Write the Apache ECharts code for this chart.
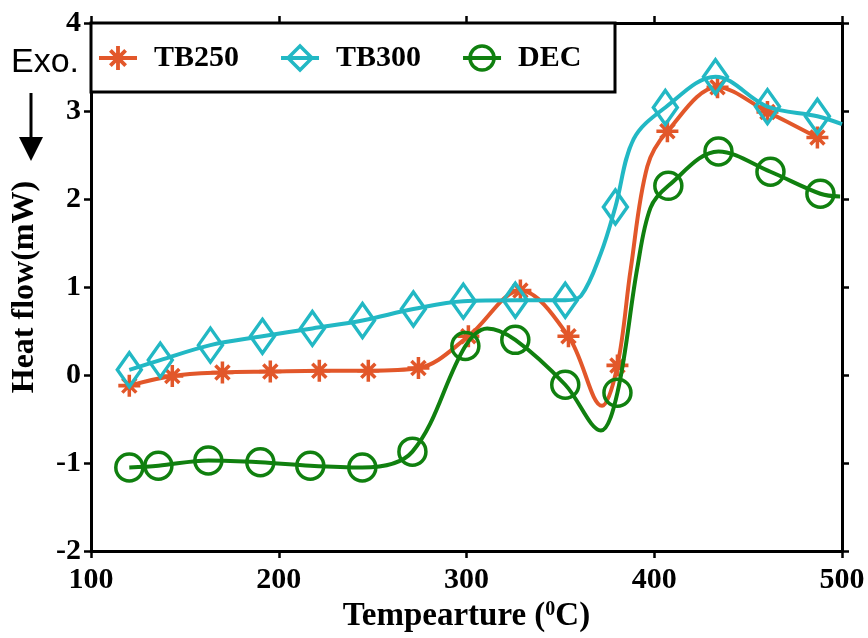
<!DOCTYPE html>
<html>
<head>
<meta charset="utf-8">
<script src="https://cdn.jsdelivr.net/npm/echarts@6/dist/echarts.min.js"></script>
<style>
html,body{margin:0;padding:0;background:#fff;}
#c{width:868px;height:638px;}
</style>
</head>
<body>
<div id="c"></div>
<script>
// ---- data ----
const seriesNames = ['TB250', 'TB300', 'DEC'];
const xTicks = [100, 200, 300, 400, 500];
const yTicks = [-2, -1, 0, 1, 2, 3, 4];

// [temperature, heat flow, marker shown (1) or only a curve point (0)]
const tb250 = [
  [120.4, -0.12, 1], [143.3, -0.01, 1], [170.0, 0.03, 1], [195.5, 0.04, 1],
  [221.6, 0.05, 1], [247.7, 0.05, 1], [274.4, 0.08, 1], [301.0, 0.44, 1],
  [328.7, 0.96, 1], [354.3, 0.44, 1], [372.2, -0.35, 0], [380.4, 0.11, 1],
  [387.5, 1.21, 0], [396.3, 2.37, 0], [407.0, 2.77, 1], [433.7, 3.27, 1],
  [460.3, 2.99, 1], [486.9, 2.70, 1]
];
const tb300 = [
  [120.4, 0.06, 1], [136.9, 0.17, 1], [163.6, 0.34, 1], [191.3, 0.44, 1],
  [217.9, 0.53, 1], [244.6, 0.62, 1], [271.7, 0.75, 1], [298.3, 0.84, 1],
  [326.0, 0.85, 1], [352.6, 0.85, 1], [361.0, 0.90, 0], [371.5, 1.38, 0],
  [379.3, 1.91, 1], [389.0, 2.68, 0], [405.9, 3.04, 1], [432.6, 3.39, 1],
  [460.3, 3.05, 1], [486.9, 2.94, 1], [500.0, 2.85, 0]
];
const dec = [
  [120.4, -1.05, 1], [135.9, -1.03, 1], [162.5, -0.97, 1], [190.2, -0.99, 1],
  [216.8, -1.03, 1], [244.5, -1.05, 1], [271.2, -0.87, 1], [299.4, 0.33, 1],
  [311.0, 0.53, 0], [326.0, 0.40, 1], [352.6, -0.11, 1], [371.6, -0.63, 0],
  [380.4, -0.20, 1], [391.0, 1.22, 0], [398.0, 1.90, 0], [407.5, 2.15, 1],
  [434.2, 2.54, 1], [461.9, 2.31, 1], [488.5, 2.06, 1], [499.0, 2.03, 0]
];

const colors = ['#E2572A', '#22B8C4', '#10800F'];
const serif = "'Liberation Serif', 'Times New Roman', serif";

const asterisk = 'path://M0 8.4H20V11.6H0Z M8.4 0H11.6V20H8.4Z M2.505 4.767L4.767 2.505L17.495 15.233L15.233 17.495Z M4.767 17.495L2.505 15.233L15.233 2.505L17.495 4.767Z';

function toData(arr) {
  return arr.map(p => p[2] ? {value: [p[0], p[1]]} : {value: [p[0], p[1]], symbol: 'none'});
}

const symbols = [asterisk, 'diamond', 'circle'];
const sizes = [22, [24, 34], 27];
const datasets = [tb250, tb300, dec];

const series = seriesNames.map((n, i) => ({
  name: n,
  type: 'line',
  smooth: 0.35,
  data: toData(datasets[i]),
  symbol: symbols[i],
  symbolSize: sizes[i],
  showAllSymbol: true,
  lineStyle: {color: colors[i], width: 4},
  itemStyle: i === 0
    ? {color: colors[i], borderWidth: 0}
    : {color: 'rgba(255,255,255,0)', borderColor: colors[i], borderWidth: 3.5},
  emphasis: {disabled: true},
  z: 3 + i
}));

const axisCommon = {
  type: 'value',
  splitLine: {show: false},
  axisLine: {show: true, onZero: false, lineStyle: {color: '#000', width: 3}},
  axisTick: {show: true, inside: false, length: 7, lineStyle: {color: '#000', width: 2.5}}
};

const chart = echarts.init(document.getElementById('c'), null, {renderer: 'canvas'});
chart.setOption({
  backgroundColor: '#fff',
  animation: false,
  grid: {left: 91, right: 26, top: 23, bottom: 85, containLabel: false},
  xAxis: [
    Object.assign({}, axisCommon, {
      min: xTicks[0], max: xTicks[xTicks.length - 1], interval: xTicks[1] - xTicks[0],
      position: 'bottom',
      axisLabel: {color: '#000', fontFamily: serif, fontWeight: 'bold', fontSize: 30, margin: 14},
      name: '{a|Tempearture (}{s|0}{a|C)}',
      nameLocation: 'middle',
      nameGap: 41,
      nameTextStyle: {
        rich: {
          a: {fontFamily: serif, fontWeight: 'bold', fontSize: 33, color: '#000', verticalAlign: 'bottom'},
          s: {fontFamily: serif, fontWeight: 'bold', fontSize: 20, color: '#000', verticalAlign: 'top'}
        }
      }
    }),
    Object.assign({}, axisCommon, {
      min: xTicks[0], max: xTicks[xTicks.length - 1], interval: xTicks[1] - xTicks[0],
      position: 'top', axisLabel: {show: false}
    })
  ],
  yAxis: [
    Object.assign({}, axisCommon, {
      min: yTicks[0], max: yTicks[yTicks.length - 1], interval: yTicks[1] - yTicks[0],
      position: 'left',
      axisLabel: {color: '#000', fontFamily: serif, fontWeight: 'bold', fontSize: 30, margin: 10},
      name: 'Heat flow(mW)',
      nameLocation: 'middle',
      nameGap: 50,
      nameTextStyle: {fontFamily: serif, fontWeight: 'bold', fontSize: 32, color: '#000'}
    }),
    Object.assign({}, axisCommon, {
      min: yTicks[0], max: yTicks[yTicks.length - 1], interval: yTicks[1] - yTicks[0],
      position: 'right', axisLabel: {show: false}
    })
  ],
  legend: {
    left: 97, top: 43,
    itemWidth: 38, itemHeight: 30, itemGap: 40,
    padding: 0,
    lineStyle: {width: 4},
    itemStyle: {borderWidth: 3.5},
    textStyle: {fontFamily: serif, fontWeight: 'bold', fontSize: 30, color: '#000', padding: [0, 0, 0, 12]},
    data: seriesNames,
    z: 10
  },
  graphic: [
    {type: 'rect', shape: {x: 91, y: 23, width: 524, height: 69},
      style: {fill: '#fff', stroke: '#000', lineWidth: 3}, z: 5},
    {type: 'text', left: 11, top: 46,
      style: {text: 'Exo.', fontFamily: "'Liberation Sans', Arial, sans-serif", fontSize: 34, fill: '#000'}, z: 5},
    {type: 'line', shape: {x1: 31, y1: 93, x2: 31, y2: 140}, style: {stroke: '#000', lineWidth: 3}, z: 5},
    {type: 'polygon', shape: {points: [[19, 137], [43, 137], [31, 161]]}, style: {fill: '#000'}, z: 5}
  ],
  series: series
});
</script>
</body>
</html>
